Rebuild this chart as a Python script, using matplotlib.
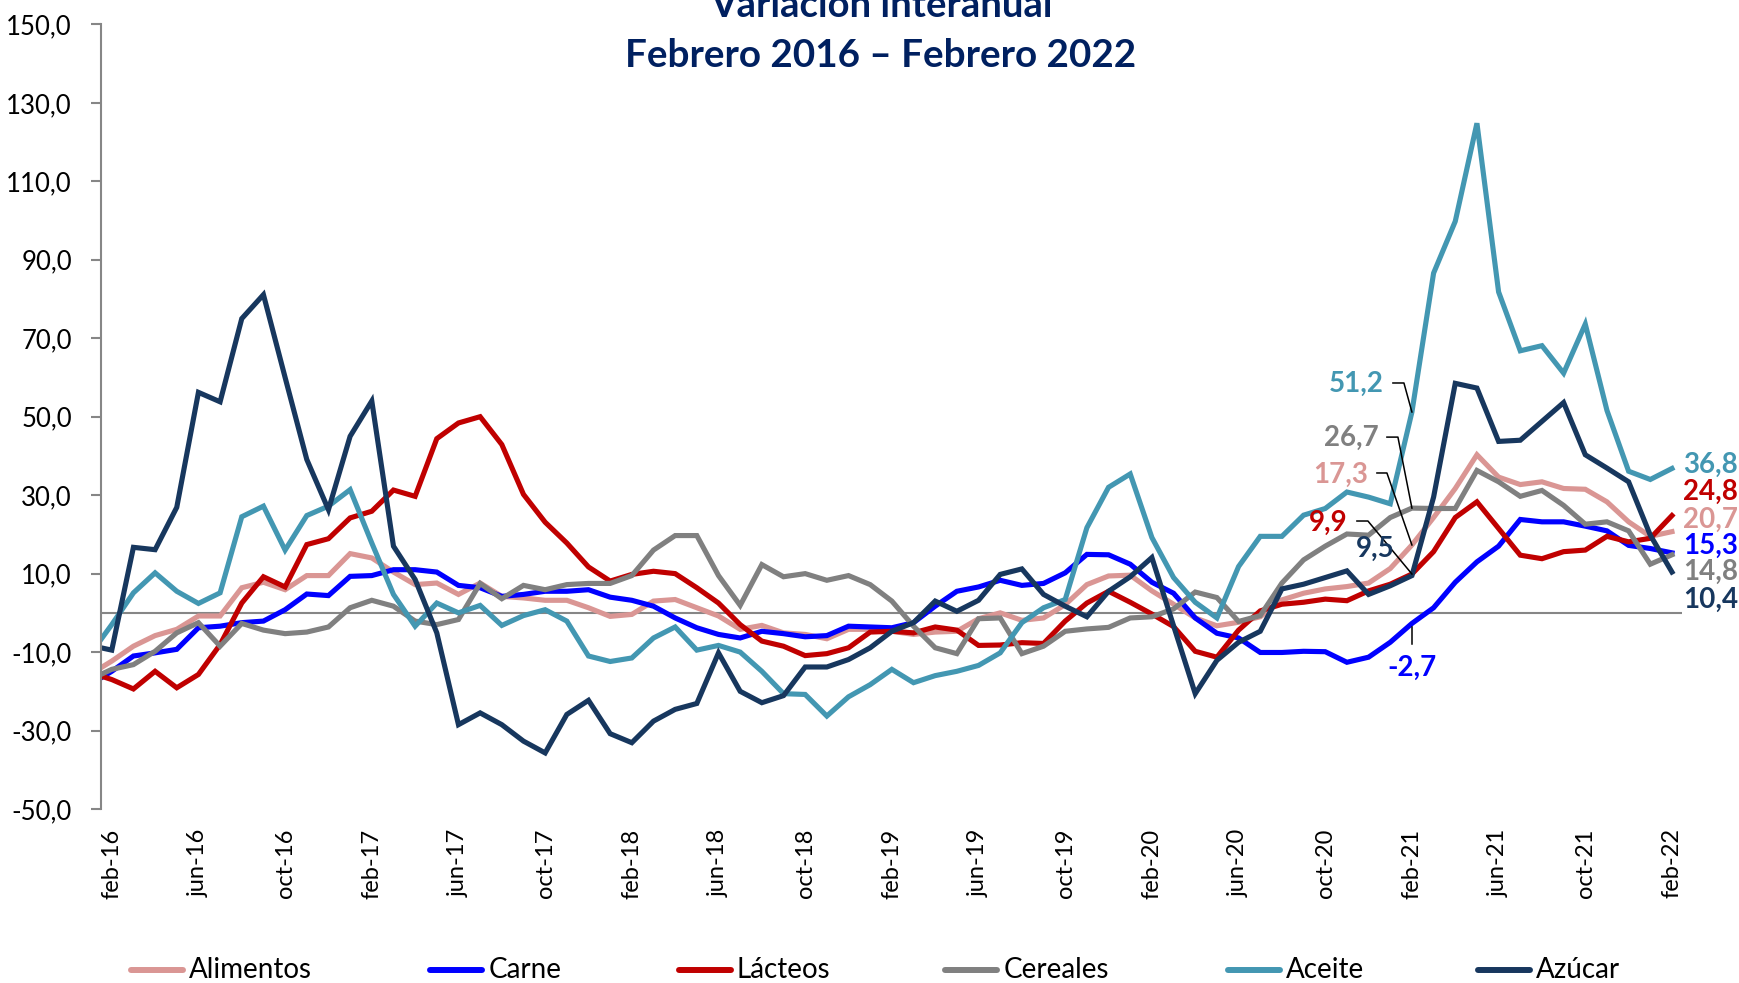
import numpy as np
import matplotlib
matplotlib.use("Agg")
import matplotlib.pyplot as plt
from matplotlib.lines import Line2D
from matplotlib.ticker import FuncFormatter

plt.rcParams["font.family"] = ["Lato", "DejaVu Sans"]

# Monthly year-on-year change, ene-16 (partly hidden behind the axis) .. feb-22
alimentos = [-15.7, -12.3, -8.5, -5.8, -4.2, -0.8, -0.8, 6.4, 7.8, 5.9, 9.5, 9.5, 15.1, 14.0, 10.4,
             7.2, 7.6, 4.7, 7.6, 4.2, 3.8, 3.2, 3.2, 1.3, -0.9, -0.4, 3.0, 3.4, 1.3, -0.8, -4.2,
             -3.2, -5.1, -5.5, -6.6, -4.2, -4.2, -4.7, -5.5, -4.9, -4.7, -1.5, 0.0, -1.9, -1.3,
             2.1, 7.2, 9.4, 9.6, 5.6, 2.2, -1.3, -3.3, -2.4, -1.0, 3.3, 5.0, 6.1, 6.7, 7.6, 11.3,
             17.3, 24.3, 31.7, 40.3, 34.6, 32.7, 33.4, 31.7, 31.5, 28.3, 23.2, 19.5, 20.7]
carne = [-18.3, -14.9, -11.0, -10.2, -9.3, -3.8, -3.4, -2.5, -2.1, 0.8, 4.8, 4.4, 9.3, 9.5, 11.0,
         11.0, 10.4, 7.0, 6.4, 4.2, 4.7, 5.5, 5.5, 5.9, 4.0, 3.2, 1.7, -1.3, -3.8, -5.5, -6.4,
         -4.7, -5.3, -6.1, -5.8, -3.4, -3.6, -3.8, -2.5, 1.7, 5.5, 6.6, 8.3, 7.0, 7.5, 10.2,
         14.9, 14.8, 12.4, 7.8, 5.0, -1.3, -5.2, -6.4, -10.1, -10.1, -9.8, -9.9, -12.6, -11.3,
         -7.5, -2.7, 1.3, 7.8, 13.0, 17.0, 23.8, 23.2, 23.2, 22.1, 20.9, 17.2, 16.4, 15.3]
lacteos = [-15.2, -17.0, -19.4, -14.9, -19.1, -15.7, -8.1, 2.5, 9.2, 6.6, 17.4, 18.9, 24.2, 25.9,
           31.3, 29.7, 44.4, 48.4, 50.0, 42.9, 30.2, 23.1, 17.8, 11.7, 8.1, 9.8, 10.6, 10.0, 6.4,
           2.5, -3.0, -7.2, -8.5, -10.9, -10.4, -8.9, -4.9, -4.7, -5.1, -3.6, -4.4, -8.3, -8.2,
           -7.6, -7.8, -2.1, 2.5, 5.5, 2.7, -0.3, -3.5, -9.8, -11.3, -4.4, 0.5, 2.2, 2.7, 3.5,
           3.1, 5.6, 7.3, 9.9, 15.6, 24.3, 28.3, 21.5, 14.7, 13.8, 15.6, 16.0, 19.5, 18.1, 19.0, 24.8]
cereales = [-17.0, -14.4, -13.2, -9.8, -5.1, -2.5, -8.5, -2.7, -4.4, -5.3, -4.9, -3.6, 1.3, 3.2,
            1.7, -2.1, -3.0, -1.7, 7.5, 3.6, 7.0, 5.9, 7.2, 7.5, 7.5, 9.5, 16.0, 19.7, 19.7, 9.5,
            1.9, 12.3, 9.2, 10.0, 8.3, 9.5, 7.2, 3.0, -3.4, -8.9, -10.4, -1.5, -1.3, -10.4, -8.5,
            -4.7, -4.1, -3.7, -1.3, -1.0, 1.0, 5.3, 3.9, -2.2, -0.7, 7.6, 13.5, 17.0, 20.1, 19.8,
            24.3, 26.7, 26.6, 26.6, 36.3, 33.4, 29.7, 31.2, 27.4, 22.6, 23.2, 20.9, 12.4, 14.8]
aceite = [-10.6, -3.0, 5.1, 10.2, 5.5, 2.4, 5.1, 24.5, 27.2, 16.0, 24.8, 27.2, 31.4, 17.8, 4.7,
          -3.4, 2.5, 0.0, 1.9, -3.2, -0.7, 0.8, -2.1, -11.0, -12.4, -11.5, -6.4, -3.6, -9.5, -8.3,
          -10.0, -14.9, -20.6, -20.8, -26.3, -21.4, -18.3, -14.4, -17.8, -16.0, -14.9, -13.4,
          -10.2, -2.5, 1.3, 3.4, 21.7, 32.0, 35.4, 19.2, 9.0, 2.7, -1.3, 11.8, 19.5, 19.5, 24.9,
          26.6, 30.8, 29.5, 27.8, 51.2, 86.6, 99.8, 124.8, 81.8, 66.8, 68.1, 61.1, 73.6, 51.6,
          36.1, 34.0, 36.8]
azucar = [-8.3, -9.5, 16.7, 16.1, 26.9, 56.2, 53.8, 75.0, 81.1, 60.0, 39.1, 26.3, 45.0, 54.0,
          17.0, 8.5, -5.1, -28.5, -25.5, -28.5, -32.7, -35.7, -25.9, -22.3, -30.8, -33.1, -27.6,
          -24.6, -23.1, -10.2, -20.0, -22.9, -21.1, -13.8, -13.8, -11.9, -8.9, -4.7, -2.5, 3.0,
          0.4, 3.2, 9.8, 11.2, 4.7, 1.7, -1.0, 5.5, 9.2, 14.1, -3.3, -20.6, -12.1, -7.5, -4.7,
          6.1, 7.3, 9.0, 10.7, 4.7, 6.9, 9.5, 29.5, 58.5, 57.3, 43.7, 44.0, 48.8, 53.6, 40.3,
          36.9, 33.4, 19.8, 10.4]

nombres = ["Alimentos", "Carne", "Lácteos", "Cereales", "Aceite", "Azúcar"]
colores = ["#DA9694", "#0000FF", "#C00000", "#808080", "#4397B2", "#17375E"]
series = [alimentos, carne, lacteos, cereales, aceite, azucar]

etiquetas_x = ["feb-16", "jun-16", "oct-16", "feb-17", "jun-17", "oct-17", "feb-18", "jun-18",
               "oct-18", "feb-19", "jun-19", "oct-19", "feb-20", "jun-20", "oct-20", "feb-21",
               "jun-21", "oct-21", "feb-22"]

# labels at feb-21 (index 60): text offset and leader line, in pixels (y down)
idx_feb21 = 60
notas_feb21 = {
    "Aceite":   ((-28, -28), [(-19, -29), (-8, -29), (0, 0)]),
    "Cereales": ((-33, -70), [(-25, -71), (-14, -71), (0, 0)]),
    "Alimentos": ((-44, -70), [(-35, -72), (-25, -72), (0, 0)]),
    "Lácteos":  ((-64, -51), [(-55, -53), (-44, -53), (0, 0)]),
    "Azúcar":   ((-17, -27), None),
    "Carne":    ((0, 44), [(0, 4), (0, 21)]),
}
# end labels at feb-22: vertical offset in pixels (y down)
notas_fin = {"Aceite": -4, "Lácteos": -24, "Alimentos": -12, "Carne": -7, "Cereales": 17,
             "Azúcar": 28}

# legend entries start (pixels from left), Excel spaces them by text width
ley_x = [131, 430.5, 679, 945.5, 1228, 1478]

x = np.arange(-1, 73)
gris = "#868686"

fig = plt.figure(figsize=(17.4, 9.83), dpi=100)
ax = fig.add_axes([0.0580, 0.177, 0.9085, 0.7982])

ax.axhline(0, color=gris, lw=1.5, zorder=1)
for nombre, color, s in zip(nombres, colores, series):
    ax.plot(x, s, color=color, lw=3.7, solid_joinstyle="miter", label=nombre, zorder=2)

ax.set_xlim(-0.5, 72.45)
ax.set_ylim(-50, 150)
ax.set_yticks(np.arange(-50, 151, 20))
ax.yaxis.set_major_formatter(FuncFormatter(lambda v, p: f"{v:.1f}".replace(".", ",")))
ax.set_xticks(np.arange(0, 73, 4))
ax.set_xticklabels(etiquetas_x, rotation=90)
ax.tick_params(axis="y", direction="out", length=7, width=1.5, color=gris, pad=14,
               labelsize=18.5)
ax.tick_params(axis="x", length=0, pad=14, labelsize=17)
for lado in ["top", "right", "bottom"]:
    ax.spines[lado].set_visible(False)
ax.spines["left"].set_color(gris)
ax.spines["left"].set_linewidth(1.5)

# data labels with leader lines at feb-21
for nombre, color, s in zip(nombres, colores, series):
    (tx, ty), guia = notas_feb21[nombre]
    val = s[idx_feb21 + 1]
    ha = "center" if nombre == "Carne" else "right"
    ax.annotate(f"{val:.1f}".replace(".", ","), (idx_feb21, val), xytext=(tx, -ty),
                textcoords="offset pixels", ha=ha, va="center", color=color,
                fontsize=20, fontweight="bold")
    if guia:
        px, py = ax.transData.transform((idx_feb21, val))
        ax.add_line(Line2D([px + dx for dx, dy in guia], [py - dy for dx, dy in guia],
                           transform=None, color="black", lw=1.1, zorder=3))

# end labels at feb-22
for nombre, color, s in zip(nombres, colores, series):
    ax.annotate(f"{s[-1]:.1f}".replace(".", ","), (72, s[-1]),
                xytext=(11, -notas_fin[nombre]), textcoords="offset pixels",
                ha="left", va="center", color=color, fontsize=20, fontweight="bold",
                annotation_clip=False)

# title (first line is cut by the top edge in the original)
azul_titulo = "#002060"
fig.text(0.5063, 1 - 17 / 983, "Variación interanual", ha="center", va="baseline",
         fontsize=27.5, fontweight="bold", color=azul_titulo)
fig.text(0.5063, 1 - 67 / 983, "Febrero 2016 – Febrero 2022", ha="center", va="baseline",
         fontsize=27.8, fontweight="bold", color=azul_titulo)

# legend drawn by hand
y_ley = 1 - 970 / 983
for x0, nombre, color in zip(ley_x, nombres, colores):
    fig.add_artist(Line2D([x0 / 1740, (x0 + 52) / 1740], [y_ley, y_ley], color=color, lw=4.3,
                          solid_capstyle="round"))
    fig.text((x0 + 58) / 1740, y_ley, nombre, ha="left", va="center", fontsize=20)

fig.savefig("out.png", dpi=100)
